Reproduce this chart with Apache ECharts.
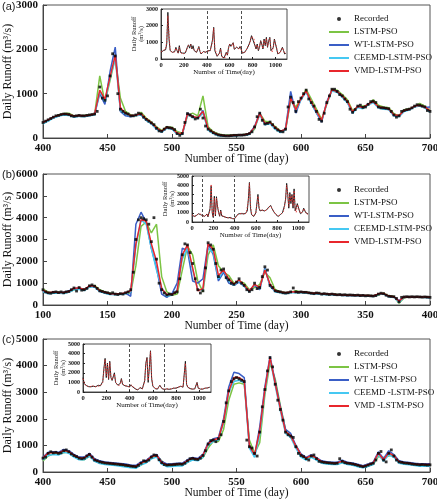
<!DOCTYPE html>
<html><head><meta charset="utf-8">
<script src="https://cdn.jsdelivr.net/npm/echarts@6/dist/echarts.min.js"></script>
<style>html,body{margin:0;padding:0;background:#fff}#c{width:437px;height:500px}</style>
</head><body><div id="c"></div>
<script>
// ---------- Panel (a): days 400-700 ----------
const aStart = 400, recStep = 2, modelStep = 4;
const recA = [
 350,380,410,440,470,500,510,530,540,540,
 530,500,490,500,510,500,500,510,520,530,
 540,600,1150,900,850,950,1400,1900,1850,1000,
 650,600,560,540,500,500,520,560,540,470,
 420,380,340,300,220,160,150,200,240,230,
 220,190,100,60,100,350,550,520,480,430,
 450,650,450,270,200,160,120,90,70,60,
 55,50,50,55,60,60,65,65,70,80,
 100,140,250,480,560,400,320,330,360,300,
 230,180,150,140,200,700,920,800,600,820,
 900,1000,1080,880,800,720,600,420,380,560,
 800,950,1100,1100,1050,980,950,880,820,650,
 580,640,720,740,690,700,760,820,830,800,
 700,680,680,670,660,600,520,470,500,600,
 620,640,650,680,720,750,740,720,700,620,
 600];
const lstmA = [
 330,400,460,520,550,560,500,500,510,520,
 530,1400,800,1300,1800,900,600,520,500,580,
 450,360,250,170,250,240,150,110,500,560,
 500,950,250,140,90,70,60,70,70,80,
 90,200,560,380,360,260,160,180,850,700,
 880,1100,880,650,420,760,1100,1080,980,860,
 620,700,720,740,860,740,700,680,550,500,
 640,660,700,780,720,620];
const wtA = [
 340,400,470,500,530,520,480,500,490,510,
 530,1000,760,1500,2050,600,500,480,520,520,
 400,330,200,140,230,210,90,90,560,480,
 450,620,190,110,60,45,45,55,60,65,
 100,260,570,300,340,220,140,210,1050,560,
 880,1050,780,560,360,820,1080,1060,930,800,
 560,720,670,770,810,690,670,650,500,490,
 610,640,710,730,690,700];
const ceemdA = [
 320,380,450,490,520,510,470,490,480,500,
 520,1050,820,1350,1800,620,540,490,500,520,
 400,320,200,130,220,200,90,80,520,460,
 440,560,180,100,50,40,40,50,55,60,
 80,230,520,300,320,200,120,180,880,620,
 860,1040,770,580,380,780,1060,1030,920,790,
 560,690,660,740,800,680,650,640,500,480,
 600,630,700,720,680,580];
const vmdA = [
 350,410,470,510,545,530,495,505,500,515,
 540,1080,870,1380,1870,680,560,505,515,545,
 430,345,230,155,245,225,110,100,540,485,
 455,600,210,125,75,58,52,60,65,72,
 100,240,550,330,350,235,155,195,900,640,
 890,1060,810,600,400,790,1090,1050,950,825,
 590,715,690,760,825,705,680,660,525,505,
 620,650,715,740,700,610];

// ---------- Panel (b): days 100-400 ----------
const bStart = 100;
const recB = [
 700,600,560,540,580,600,570,600,560,600,
 620,700,780,640,800,680,700,760,880,920,
 860,760,650,620,580,560,520,560,500,480,
 520,500,560,600,700,1500,3000,3900,4000,3950,
 3900,3700,2900,4000,2100,1000,700,550,460,500,
 480,560,600,1200,2300,2800,2750,2400,1900,1200,
 700,550,650,1700,2850,2750,2550,1900,1300,1600,
 1650,1250,1150,1000,950,1050,1200,1000,900,700,
 620,700,1000,750,800,1300,1750,1600,900,800,
 650,620,600,560,550,560,600,780,600,580,
 600,580,580,560,540,520,550,540,500,520,
 500,480,500,480,470,480,460,470,450,460,
 450,440,450,430,440,420,430,420,410,430,
 500,540,520,450,400,390,380,300,150,350,
 370,380,370,380,370,380,370,360,370,360,
 350];
const lstmB = [
 720,600,560,580,560,600,700,760,720,820,
 900,700,600,540,520,500,540,560,1800,3600,
 3800,3300,3700,1300,600,450,500,1600,2700,2300,
 1100,600,2300,2750,1800,1500,1350,1000,1100,1000,
 700,800,950,1500,1250,700,620,560,580,650,
 600,590,550,540,520,500,500,480,470,460,
 450,450,440,440,420,460,540,420,390,80,
 330,380,370,380,360,360];
const wtB = [
 650,540,600,560,580,640,760,780,700,860,
 840,620,560,500,490,500,540,400,3700,4250,
 3800,2600,1700,500,350,520,1000,2600,2500,1100,
 1000,1200,2800,2300,1100,1500,1000,900,1050,850,
 650,900,700,1700,850,620,590,540,580,580,
 590,570,530,540,490,490,490,460,450,440,
 440,440,430,420,400,500,510,390,370,200,
 360,360,360,360,360,340];
const ceemdB = [
 600,520,540,540,530,580,700,720,660,820,
 820,620,540,480,470,480,520,600,2700,3900,
 3700,2600,1600,800,400,450,700,2100,2600,1600,
 700,700,2600,2400,1200,1600,1100,900,1100,850,
 600,950,750,1650,900,600,560,520,560,560,
 560,550,510,520,480,470,470,450,440,430,
 430,430,420,410,390,480,500,380,360,120,
 350,350,350,350,340,330];
const vmdB = [
 680,560,590,570,570,620,760,790,700,880,
 870,660,580,520,500,510,560,650,2800,3900,
 3850,2800,2000,750,480,480,650,2300,2750,1700,
 650,750,2800,2550,1350,1600,1200,950,1150,900,
 640,950,800,1600,950,650,600,560,600,610,
 600,580,540,550,510,500,500,470,460,450,
 450,450,440,430,410,510,530,410,380,180,
 370,370,370,370,370,350];

// ---------- Panel (c): days 400-700 ----------
const cStart = 400;
const recC = [
 520,560,700,760,720,740,700,720,800,830,
 760,680,620,580,520,500,520,600,660,560,
 450,420,380,360,340,330,320,310,300,290,
 280,270,250,240,220,210,200,250,330,420,
 400,450,560,640,620,460,350,280,260,270,
 270,280,290,300,290,330,420,500,510,480,
 470,520,620,800,1050,1180,1200,1140,1250,1400,
 1900,2600,3050,3400,3500,3550,3500,3450,3400,1200,
 950,900,700,600,1500,2450,3100,3800,4300,3950,
 3300,2700,2350,1950,1500,1400,1350,1300,950,700,
 620,580,500,450,600,640,500,400,380,360,
 350,340,330,320,330,500,400,350,330,320,
 300,280,250,220,200,220,260,300,330,450,
 700,770,450,380,700,830,600,450,380,360,
 340,330,320,300,290,280,270,280,270,260,
 270];
const lstmC = [
 420,600,680,680,720,760,640,480,460,600,
 480,340,300,280,270,250,220,200,170,260,
 380,500,600,420,240,230,250,260,360,480,
 460,540,900,1150,1150,1600,2700,3300,3350,3300,
 1200,700,1100,2900,4100,3500,2500,1600,1300,1000,
 650,480,560,520,360,320,300,300,360,320,
 270,230,190,220,290,580,550,600,650,400,
 320,300,270,250,250,250];
const wtC = [
 560,740,760,740,850,800,660,560,560,700,
 500,420,380,360,340,320,300,260,250,380,
 440,600,660,400,300,310,330,330,460,550,
 510,660,1100,1250,1300,2000,3200,3750,3700,3550,
 1000,600,1700,3200,4350,3400,2450,1600,1450,1000,
 680,550,650,540,420,390,370,370,440,370,
 340,290,240,300,370,760,500,800,650,420,
 380,360,330,310,310,310];
const ceemdC = [
 450,620,660,640,740,700,560,460,460,600,
 400,320,280,260,240,220,190,160,140,270,
 340,500,560,300,200,210,230,230,360,450,
 420,560,1000,1150,1200,1850,3000,3400,3450,3350,
 900,550,1400,3000,4250,3250,2300,1450,1300,900,
 560,450,550,450,330,300,280,280,350,280,
 250,200,160,210,280,650,400,650,550,330,
 290,270,240,220,220,220];
const vmdC = [
 530,710,730,710,810,770,630,530,530,670,
 460,390,350,330,310,290,260,230,210,340,
 410,570,630,360,270,280,300,300,430,520,
 480,630,1060,1210,1260,1900,3050,3550,3550,3420,
 980,650,1550,3100,4300,3320,2380,1520,1370,970,
 640,520,620,520,390,360,340,340,410,340,
 310,260,210,270,340,710,460,720,610,390,
 350,330,300,280,280,280];

// ---------- Insets: days 0-1090, every 10 days ----------
const insStart = 0, insStep = 10;
const insArec = [
 400,450,500,480,550,900,2800,1200,500,450,
 400,350,450,700,500,350,800,400,300,350,
 300,350,500,700,850,650,900,600,800,500,
 450,400,550,750,450,300,350,450,500,400,
 350,500,530,500,520,1150,1900,500,420,160,
 220,350,650,160,55,60,100,400,230,700,
 900,760,800,980,580,700,700,600,620,750,
 600,350,250,400,500,600,700,900,1100,1400,
 1200,1300,800,600,900,500,700,1100,900,600,
 1200,800,1300,700,1100,1300,500,400,700,1200,
 1300,600,300,250,400,500,700,500,300,350];
const insApred = [
 420,430,520,470,600,1000,2600,1400,550,430,
 380,370,430,650,560,380,700,450,320,340,
 320,330,480,680,820,700,850,650,760,540,
 430,420,520,720,500,320,340,430,480,420,
 360,480,540,510,500,1050,1850,650,400,180,
 210,330,600,220,70,60,90,380,250,650,
 880,780,780,960,620,680,710,620,600,730,
 620,380,270,380,480,620,680,870,1050,1350,
 1250,1250,850,620,850,560,680,1050,950,620,
 1150,850,1250,750,1050,1250,560,420,680,1150,
 1250,650,320,270,380,480,680,520,320,340];
const insBrec = [
 800,700,600,650,700,800,900,1000,800,700,
 700,600,620,800,860,560,520,1500,3900,1000,
 480,2800,650,2750,1650,1050,620,1300,650,560,
 600,520,500,480,450,420,500,390,370,370,
 350,500,700,800,900,850,900,1000,900,800,
 900,1000,1200,2500,4300,1500,800,700,600,800,
 1000,1200,3000,1500,1200,1100,1300,1400,1200,1100,
 1300,1500,1600,1700,1800,1500,1300,1100,900,800,
 700,600,700,800,900,1000,1200,1800,2500,4200,
 3000,1500,3200,2000,3000,1500,3600,1200,1000,2000,
 1800,1200,900,1000,1100,1500,1400,1000,800,900];
const insBpred = [
 780,720,620,630,680,780,880,950,850,720,
 680,620,600,760,880,600,500,1200,4100,1300,
 550,2600,800,2600,1800,1150,700,1200,800,580,
 590,540,510,490,460,430,480,410,380,360,
 360,480,680,780,880,870,880,980,920,820,
 880,980,1150,2300,4200,1800,900,720,620,780,
 960,1150,2800,1700,1250,1120,1280,1380,1220,1120,
 1280,1480,1580,1680,1750,1550,1330,1130,920,820,
 720,620,680,780,880,980,1150,1700,2400,4000,
 3100,1700,3000,2200,2900,1700,3400,1400,1050,1900,
 1850,1250,950,980,1080,1450,1420,1050,820,880];
const insCrec = [
 1500,900,700,650,600,550,500,550,700,600,
 500,550,600,700,600,650,800,1100,2500,3500,
 1500,3000,1300,3200,1500,1200,1300,2000,1000,800,
 700,650,900,1400,800,700,650,600,600,650,
 520,740,760,500,450,330,280,210,400,460,
 270,330,470,1180,3000,3600,1000,2500,4300,1400,
 620,640,350,500,300,220,700,830,340,280,
 270,300,320,300,280,300,320,350,400,450,
 400,450,500,550,600,650,500,600,3200,800,
 500,400,350,320,300,300,320,400,1000,400,
 350,300,280,300,350,400,380,420,450,500];
const insCpred = [
 1400,950,720,630,620,560,520,540,680,620,
 520,540,620,680,620,640,780,1000,2300,3400,
 1700,2900,1400,3100,1600,1250,1250,1900,1100,820,
 720,660,880,1300,850,720,660,620,610,640,
 540,720,750,530,460,350,300,230,380,470,
 290,340,460,1100,2900,3500,1200,2400,4200,1500,
 650,620,380,480,320,240,680,800,370,300,
 290,310,330,310,290,310,330,360,410,440,
 420,460,510,560,610,640,520,590,3000,900,
 520,420,360,330,310,310,330,410,950,450,
 370,320,290,310,360,410,390,430,460,490];

// ---------- Labels ----------
const namesAB = ['LSTM-PSO','WT-LSTM-PSO','CEEMD-LSTM-PSO','VMD-LSTM-PSO'];
const namesC = ['LSTM-PSO','WT -LSTM-PSO','CEEMD -LSTM-PSO','VMD -LSTM-PSO'];
const tags = ['(a)','(b)','(c)'];
const xTitle = 'Number of Time (day)';
const yTitle = 'Daily Runoff (m\u00B3/s)';
const insXTitle = 'Number of Time(day)';
const insYTitle = 'Daily Runoff\n(m\u00B3/s)';

// ---------- Build chart ----------
const SERIF = '"Liberation Serif","Times New Roman",serif';
const modelColors = ['#7cc444','#3a5ec6','#45c8f2','#e8262c'];
const TXT = '#111';
const plain = v => String(v);

function pts(start, step, arr){ return arr.map((v,i)=>[start+i*step, v]); }

const panels = [
 {main:{left:43,top:5,width:387,height:133}, xmin:400, xmax:700, ymax:3000, start:aStart,
  rec:recA, models:[lstmA,wtA,ceemdA,vmdA], names:namesAB,
  inset:{left:161,top:9,width:126,height:50}, insMax:3000, insRec:insArec, insPred:insApred, dash:[400,700],
  legendTop:9, tagTop:1},
 {main:{left:43,top:174,width:387,height:131}, xmin:100, xmax:400, ymax:6000, start:bStart,
  rec:recB, models:[lstmB,wtB,ceemdB,vmdB], names:namesAB,
  inset:{left:192,top:176,width:117,height:46}, insMax:5000, insRec:insBrec, insPred:insBpred, dash:[100,400],
  legendTop:180, tagTop:169},
 {main:{left:43,top:339,width:387,height:133}, xmin:400, xmax:700, ymax:5000, start:cStart,
  rec:recC, models:[lstmC,wtC,ceemdC,vmdC], names:namesC,
  inset:{left:83,top:344,width:128,height:48}, insMax:5000, insRec:insCrec, insPred:insCpred, dash:[400,700],
  legendTop:344, tagTop:334}
];

const grid=[], xAxis=[], yAxis=[], series=[], legend=[], graphic=[];
panels.forEach((p,i)=>{
  const gm = 2*i, gi = 2*i+1;
  grid.push(Object.assign({show:true, borderColor:'#555', borderWidth:1, backgroundColor:'#fff', containLabel:false, outerBoundsMode:'none'}, p.main));
  grid.push(Object.assign({show:true, borderColor:'#222', borderWidth:0.8, backgroundColor:'#fff', containLabel:false, outerBoundsMode:'none'}, p.inset));
  const axisCommon = {
    axisLine:{show:true,onZero:false,lineStyle:{color:'#444',width:1}},
    axisTick:{show:true,inside:true,length:4,lineStyle:{color:'#444'}},
    splitLine:{show:false}, nameMoveOverlap:false
  };
  xAxis.push(Object.assign({}, axisCommon, {gridIndex:gm,type:'value',min:p.xmin,max:p.xmax,interval:50,
    axisLabel:{fontFamily:SERIF,fontWeight:'bold',fontSize:11,color:TXT,margin:5,formatter:plain},
    name:xTitle,nameLocation:'middle',nameGap:15,nameTextStyle:{fontFamily:SERIF,fontSize:11.5,color:TXT}}));
  yAxis.push(Object.assign({}, axisCommon, {gridIndex:gm,type:'value',min:0,max:p.ymax,interval:1000,
    axisLabel:{fontFamily:SERIF,fontWeight:'bold',fontSize:11,color:TXT,margin:5,formatter:plain},
    name:yTitle,nameLocation:'middle',nameGap:29,nameTextStyle:{fontFamily:SERIF,fontSize:12,color:TXT}}));
  const insAxis = {
    axisLine:{show:true,onZero:false,lineStyle:{color:'#222',width:0.8}},
    axisTick:{show:true,inside:true,length:2,lineStyle:{color:'#222'}},
    splitLine:{show:false}, nameMoveOverlap:false
  };
  xAxis.push(Object.assign({}, insAxis, {gridIndex:gi,type:'value',min:0,max:1100,interval:200,
    axisLabel:{fontFamily:SERIF,fontWeight:'bold',fontSize:6.5,color:TXT,margin:3,showMaxLabel:false,formatter:plain},
    name:insXTitle,nameLocation:'middle',nameGap:10,nameTextStyle:{fontFamily:SERIF,fontSize:7,color:TXT}}));
  yAxis.push(Object.assign({}, insAxis, {gridIndex:gi,type:'value',min:0,max:p.insMax,interval:1000,
    axisLabel:{fontFamily:SERIF,fontWeight:'bold',fontSize:6,color:TXT,margin:3,formatter:plain},
    name:insYTitle,nameLocation:'middle',nameGap:16,nameTextStyle:{fontFamily:SERIF,fontSize:6.5,lineHeight:7,color:TXT}}));

  p.models.forEach((arr,k)=>{
    series.push({type:'line',name:p.names[k],xAxisIndex:gm,yAxisIndex:gm,data:pts(p.start,modelStep,arr),
      symbol:'none',lineStyle:{width:1.5,color:modelColors[k]},itemStyle:{color:modelColors[k]},z:2+k*0.1,silent:true,animation:false});
  });
  series.push({type:'scatter',name:'Recorded',xAxisIndex:gm,yAxisIndex:gm,data:pts(p.start,recStep,p.rec),
    symbol:'rect',symbolSize:2.8,itemStyle:{color:'#000'},z:5,silent:true,animation:false});
  series.push({type:'line',name:'ins-rec-'+i,xAxisIndex:gi,yAxisIndex:gi,data:pts(insStart,insStep,p.insRec),
    symbol:'none',lineStyle:{width:0.9,color:'#111'},z:6,silent:true,animation:false,
    markLine:{silent:true,symbol:'none',label:{show:false},lineStyle:{type:[3,2],color:'#222',width:0.8},
      data:p.dash.map(d=>({xAxis:d}))}});
  series.push({type:'line',name:'ins-pred-'+i,xAxisIndex:gi,yAxisIndex:gi,data:pts(insStart,insStep,p.insPred),
    symbol:'none',lineStyle:{width:0.9,color:'#e03030',type:[1.5,1.5]},z:7,silent:true,animation:false});

  legend.push({left:323,top:p.legendTop,orient:'vertical',itemWidth:20,itemHeight:4,itemGap:3,
    selectedMode:false,lineStyle:{width:2},
    textStyle:{fontFamily:SERIF,fontSize:9,color:TXT,lineHeight:10},
    data:[{name:'Recorded',icon:'circle',itemStyle:{color:'#000'}}].concat(p.names.map(n=>({name:n,itemStyle:{opacity:0}})))});
  graphic.push({type:'text',left:2,top:p.tagTop,style:{text:tags[i],font:'11px "Liberation Sans", Arial, sans-serif',fill:'#222'}});
});

const chart = echarts.init(document.getElementById('c'), null, {renderer:'canvas'});
chart.setOption({animation:false,backgroundColor:'#fff',grid,xAxis,yAxis,series,legend,graphic});
</script>
</body></html>
